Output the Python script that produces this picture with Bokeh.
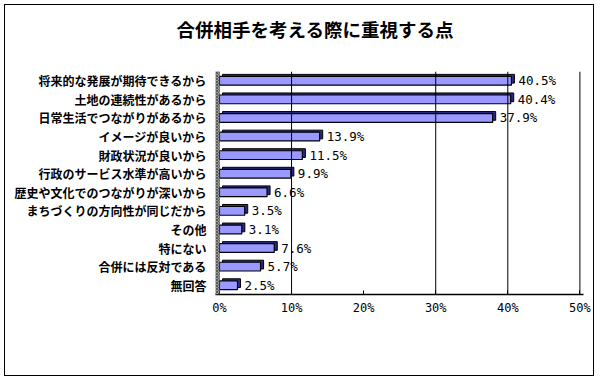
from bokeh.plotting import figure
from bokeh.models import (FactorRange, Range1d, FixedTicker, PrintfTickFormatter,
                          Span, BoxAnnotation, ColumnDataSource, Title)
from bokeh.transform import dodge
from bokeh.embed import file_html
from bokeh.resources import INLINE
from bokeh.core.properties import value

title_text = "合併相手を考える際に重視する点"
categories = [
    "将来的な発展が期待できるから",
    "土地の連続性があるから",
    "日常生活でつながりがあるから",
    "イメージが良いから",
    "財政状況が良いから",
    "行政のサービス水準が高いから",
    "歴史や文化でのつながりが深いから",
    "まちづくりの方向性が同じだから",
    "その他",
    "特にない",
    "合併には反対である",
    "無回答",
]
values = [40.5, 40.4, 37.9, 13.9, 11.5, 9.9, 6.6, 3.5, 3.1, 7.6, 5.7, 2.5]
x_ticks = [0, 10, 20, 30, 40, 50]
grid_values = [10, 30, 40, 50]

JP = "Noto Sans CJK JP"
NUM = "DejaVu Sans Mono"
W, H = 590, 372

src = ColumnDataSource(dict(
    cat=categories,
    val=values,
    val_back=[v + 0.42 for v in values],
    label=[f"{v}%" for v in values],
))

p = figure(width=W, height=H,
           y_range=FactorRange(*reversed(categories)),
           x_range=Range1d(-0.55, 50.5),
           output_backend="svg", toolbar_location=None,
           min_border_left=210, min_border_right=12,
           min_border_top=62, min_border_bottom=83)

p.styles = {"border": "1px solid black", "margin": "4px 0 0 4px"}
p.outline_line_color = None
p.xgrid.grid_line_color = None
p.ygrid.grid_line_color = None
p.background_fill_color = "white"
p.border_fill_color = "white"

# spacer between the title and the plot area
p.add_layout(Title(text=" ", text_font_size="14px", standoff=0), "above")

p.title.text = title_text
p.title.text_font = JP
p.title.text_font_size = "18.5px"
p.title.text_font_style = "bold"
p.title.text_color = "black"
p.title.align = "left"
p.title.offset = -39
p.title.vertical_align = "top"
p.title.standoff = 20

# back wall (left side)
p.add_layout(BoxAnnotation(left=-0.55, right=0, fill_color="#9a9a9a", fill_alpha=1,
                           hatch_pattern="diagonal_cross", hatch_color="#4a4a4a",
                           hatch_scale=3, hatch_alpha=0.8,
                           line_color="black", line_width=1))

for g in grid_values:
    p.add_layout(Span(location=g, dimension="height", line_color="black", line_width=1))

# 3D back face of bars
p.hbar(y=dodge("cat", 0.11, range=p.y_range), left=0.42, right="val_back", height=0.47,
       source=src, fill_color="#2a2a80", line_color="black", line_width=1)
# front face
p.hbar(y="cat", left=0, right="val", height=0.47, source=src,
       fill_color="#9999ff", line_color="black", line_width=1.2)

p.text(x="val_back", y="cat", text="label", source=src, x_offset=4,
       text_align="left", text_baseline="middle",
       text_font=value(NUM), text_font_size="12.5px", text_color="black")

# axes
p.yaxis.axis_line_color = None
p.yaxis.major_tick_line_color = None
p.yaxis.minor_tick_line_color = None
p.yaxis.major_label_standoff = 3
p.yaxis.major_label_text_font = JP
p.yaxis.major_label_text_font_size = "12px"
p.yaxis.major_label_text_font_style = "bold"
p.yaxis.major_label_text_color = "black"

p.xaxis.ticker = FixedTicker(ticks=x_ticks)
p.xaxis.formatter = PrintfTickFormatter(format="%d%%")
p.xaxis.axis_line_color = "black"
p.xaxis.axis_line_width = 1.5
p.xaxis.major_tick_in = 4
p.xaxis.major_tick_out = 0
p.xaxis.minor_tick_line_color = None
p.xaxis.major_label_standoff = 6
p.xaxis.major_label_text_font = NUM
p.xaxis.major_label_text_font_size = "12px"
p.xaxis.major_label_text_color = "black"

open("out.html", "w").write(file_html(p, INLINE))
